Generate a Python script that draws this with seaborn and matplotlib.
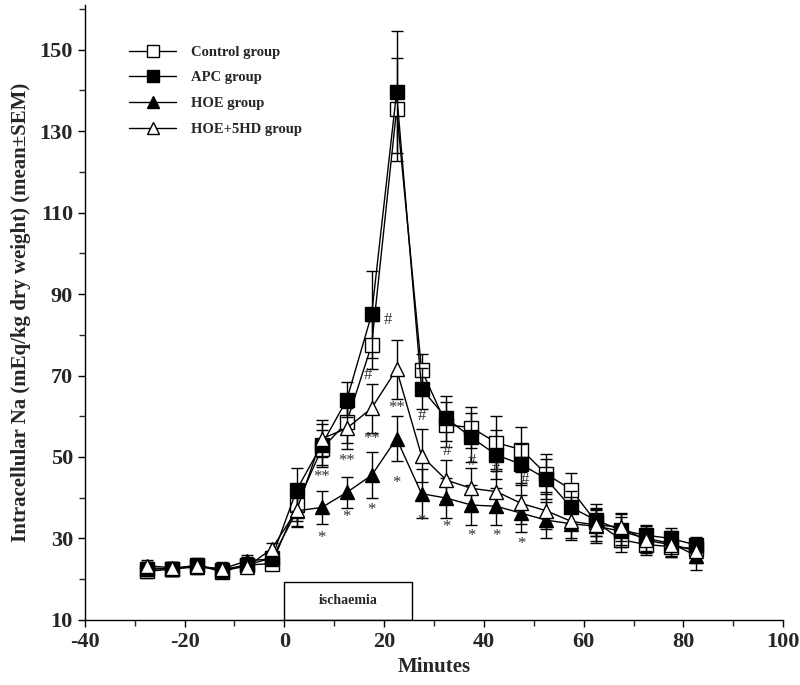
import matplotlib
matplotlib.use("Agg")
import matplotlib.pyplot as plt
import seaborn as sns
import pandas as pd
from matplotlib.lines import Line2D
from matplotlib.patches import Rectangle

minutes = [-27.5, -22.5, -17.5, -12.5, -7.5, -2.5, 2.5, 7.5, 12.5, 17.5, 22.5, 27.5,
           32.5, 37.5, 42.5, 47.5, 52.5, 57.5, 62.5, 67.5, 72.5, 77.5, 82.5]

control = [21.9, 22.5, 23.5, 21.8, 23.5, 23.8, 38.3, 52.0, 58.5, 77.5, 135.3, 71.4,
           57.9, 57.2, 53.5, 51.8, 45.8, 42.0, 34.0, 29.7, 28.5, 28.0, 27.5]
control_sem = [1.5, 1.5, 1.5, 1.5, 1.5, 1.5, 4.0, 4.5, 5.0, 6.0, 12.7, 4.0,
               5.5, 5.0, 6.5, 5.5, 5.0, 4.0, 3.5, 3.0, 2.5, 2.5, 2.0]

apc = [22.5, 22.5, 23.3, 22.3, 23.5, 25.2, 42.0, 53.0, 64.0, 85.0, 139.5, 66.8,
       59.5, 54.8, 50.5, 48.2, 44.6, 37.6, 34.5, 32.0, 30.8, 30.0, 28.4]
apc_sem = [1.8, 1.8, 2.0, 2.0, 2.0, 1.8, 5.3, 5.0, 4.3, 10.6, 15.0, 5.0,
           5.5, 6.0, 6.0, 5.0, 5.0, 4.0, 4.0, 4.0, 2.5, 2.5, 2.0]

hoe = [22.8, 22.5, 23.0, 22.5, 24.5, 25.0, 36.8, 37.6, 41.3, 45.5, 54.5, 41.0,
       39.9, 38.2, 37.9, 36.2, 34.5, 33.6, 33.0, 31.8, 30.0, 28.8, 25.8]
hoe_sem = [1.5, 1.5, 1.5, 1.5, 1.5, 1.5, 4.0, 4.0, 3.8, 5.6, 5.5, 6.0,
           5.0, 5.0, 4.5, 4.5, 4.5, 4.0, 4.0, 3.5, 3.0, 3.0, 3.5]

hoe5hd = [23.3, 22.8, 23.2, 22.5, 23.0, 27.5, 37.0, 54.5, 57.0, 62.0, 71.5, 50.3,
          44.3, 42.3, 41.5, 38.6, 36.8, 34.2, 33.3, 32.8, 29.5, 28.5, 27.0]
hoe5hd_sem = [1.5, 1.5, 1.5, 1.5, 1.5, 1.5, 4.0, 4.5, 5.0, 6.0, 7.2, 6.5,
              5.0, 5.0, 5.0, 5.0, 4.5, 4.0, 4.0, 3.5, 3.0, 3.0, 3.0]

group_names = ["Control group", "APC group", "HOE group", "HOE+5HD group"]

# significance labels (x, y, text)
sig_labels = [
    (20.8, 83.7, "#"), (16.7, 70.2, "#"),
    (7.5, 45.2, "**"), (7.5, 30.1, "*"),
    (12.5, 49.1, "**"), (12.5, 35.3, "*"),
    (17.5, 54.4, "**"), (17.5, 37.0, "*"),
    (22.5, 62.0, "**"), (22.5, 43.6, "*"),
    (27.5, 60.0, "#"), (27.5, 34.2, "*"),
    (32.5, 51.4, "#"), (32.5, 32.7, "*"),
    (37.5, 49.1, "#"), (37.5, 30.5, "*"),
    (42.5, 47.0, "#"), (42.5, 30.7, "*"),
    (48.3, 44.4, "#"), (47.5, 28.6, "*"),
]

sns.set_style("ticks")
plt.rcParams['font.family'] = ['Liberation Serif', 'DejaVu Serif']
plt.rcParams['font.weight'] = 'bold'
plt.rcParams['axes.unicode_minus'] = False

fig = plt.figure(figsize=(8.0, 6.85), dpi=100)
ax = fig.add_axes([0.106, 0.095, 0.873, 0.898])

series = [
    (control, control_sem, "s", "white", 1),
    (apc, apc_sem, "s", "black", 2),
    (hoe, hoe_sem, "^", "black", 3),
    (hoe5hd, hoe5hd_sem, "^", "white", 4),
]

handles = []
for name, (vals, sem, mk, fc, z) in zip(group_names, series):
    df = pd.DataFrame({"Minutes": minutes, "value": vals})
    ax.errorbar(minutes, vals, yerr=sem, fmt="none", ecolor="black",
                elinewidth=1.0, capsize=4, capthick=1.0, zorder=z)
    sns.lineplot(data=df, x="Minutes", y="value", ax=ax, color="black",
                 linewidth=1.0, marker=mk, markersize=10,
                 markerfacecolor=fc, markeredgecolor="black", markeredgewidth=1.0,
                 zorder=z + 0.5, legend=False)
    handles.append(Line2D([0], [0], color="black", linewidth=1.0, marker=mk,
                          markersize=9, markerfacecolor=fc, markeredgecolor="black",
                          label=name))

for x, y, t in sig_labels:
    ax.text(x, y, t, ha="center", va="center", fontsize=12,
            color="#333333", fontweight="normal", zorder=6)

# ischaemia box
ax.add_patch(Rectangle((0, 10), 25.5, 9.3, fill=False, edgecolor="black",
                       linewidth=1.0, zorder=0.5))
ax.text(12.75, 14.7, "ischaemia", ha="center", va="center", fontsize=10,
        fontweight="bold")

ax.set_xlim(-40, 100)
ax.set_ylim(10, 161)
ax.set_xticks(range(-40, 101, 20))
ax.set_xticks(range(-30, 100, 20), minor=True)
ax.set_yticks(range(10, 151, 20))
ax.set_yticks(range(20, 161, 20), minor=True)
ax.tick_params(axis="both", which="major", labelsize=16, length=5, width=1,
               direction="out", color="black")
ax.tick_params(axis="both", which="minor", length=4, width=1, direction="out")
for lab in ax.get_xticklabels() + ax.get_yticklabels():
    lab.set_fontweight("bold")

ax.set_xlabel("Minutes", fontsize=15, fontweight="bold", labelpad=4)
ax.set_ylabel("Intracellular Na (mEq/kg dry weight) (mean\u00b1SEM)", fontsize=15,
              fontweight="bold", labelpad=6)
sns.despine(ax=ax)
for s in ["left", "bottom"]:
    ax.spines[s].set_linewidth(1.0)
    ax.spines[s].set_color("black")

leg = ax.legend(handles=handles, loc="upper left", bbox_to_anchor=(0.045, 0.955),
                frameon=False, handlelength=3.2, handletextpad=1.0,
                labelspacing=0.85, prop={"family": "Liberation Serif",
                                         "weight": "bold", "size": 10.5})

fig.savefig("out.png", dpi=100, facecolor="white")
